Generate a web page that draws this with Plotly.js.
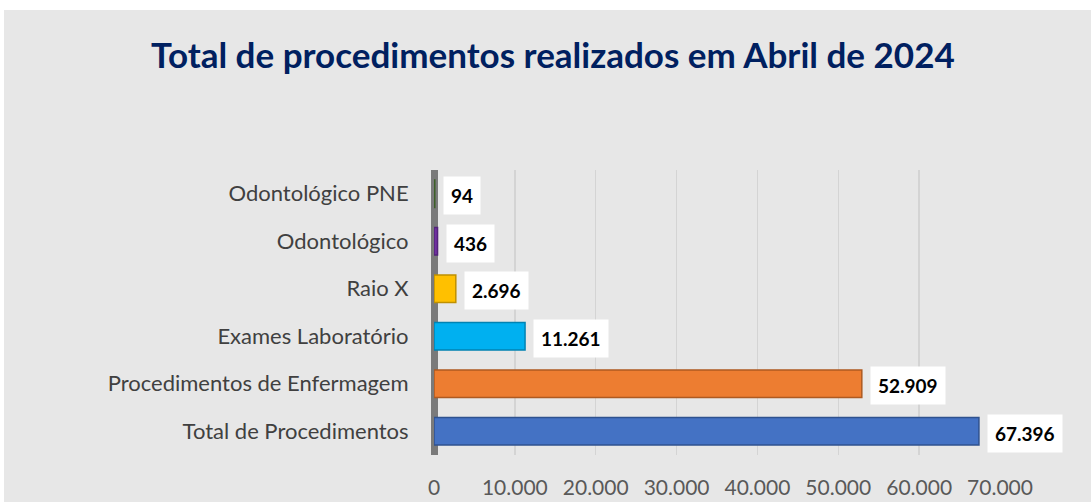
<!DOCTYPE html>
<html>
<head>
<meta charset="utf-8">
<script src="https://cdn.plot.ly/plotly-3.0.1.min.js"></script>
<style>
html,body{margin:0;padding:0;background:#ffffff;width:1091px;height:502px;overflow:hidden;}
#chart{position:absolute;left:4px;top:10px;width:1087px;height:492px;}
</style>
</head>
<body>
<div id="chart"></div>
<script>
const categories = ["Total de Procedimentos", "Procedimentos de Enfermagem", "Exames Laboratório", "Raio X", "Odontológico", "Odontológico PNE"];
const values = [67396, 52909, 11261, 2696, 436, 94];
const tickValues = [0, 10000, 20000, 30000, 40000, 50000, 60000, 70000];

const barColors = ["#4472C4", "#ED7D31", "#00B0F0", "#FFC000", "#7030A0", "#548235"];
const lineColors = ["#2F528F", "#AE5A21", "#0083B3", "#BF9000", "#52237A", "#3D5F27"];

function fmt(v){ return String(v).replace(/\B(?=(\d{3})+(?!\d))/g, "."); }

const FONT = "Lato, 'Liberation Sans', sans-serif";

const trace = {
  type: "bar",
  orientation: "h",
  y: categories,
  x: values,
  width: 0.58,
  marker: {color: barColors, line: {color: lineColors, width: 1.5}},
  hoverinfo: "none"
};

const annotations = values.map((v, i) => ({
  x: v, y: categories[i], xref: "x", yref: "y",
  text: "<b>" + fmt(v) + "</b>",
  showarrow: false, xanchor: "left", yanchor: "middle",
  xshift: 8, yshift: -2,
  bgcolor: "#ffffff", borderpad: 7,
  font: {family: FONT, size: 19, color: "#000000"}
}));

const layout = {
  width: 1087, height: 492,
  paper_bgcolor: "#e7e7e7",
  plot_bgcolor: "#e7e7e7",
  separators: ",.",
  margin: {l: 430, r: 91, t: 160, b: 47},
  title: {
    text: "<b>Total de procedimentos realizados em Abril de 2024</b>",
    font: {family: FONT, size: 35, color: "#002060"},
    x: 0.505, xanchor: "center", xref: "container",
    y: 0.907, yanchor: "middle", yref: "container"
  },
  xaxis: {
    range: [0, 70000],
    tickvals: tickValues,
    ticktext: tickValues.map(fmt),
    showgrid: true, gridcolor: "#d4d4d4", gridwidth: 1.5,
    zeroline: true, zerolinecolor: "#7a7a7a", zerolinewidth: 7,
    ticks: "outside", ticklen: 14, tickcolor: "rgba(0,0,0,0)",
    tickfont: {family: FONT, size: 21, color: "#595959"},
    showline: false, fixedrange: true
  },
  yaxis: {
    type: "category",
    ticks: "outside", ticklen: 20, tickcolor: "rgba(0,0,0,0)",
    tickfont: {family: FONT, size: 22, color: "#404040"},
    showgrid: false, zeroline: false, showline: false, fixedrange: true
  },
  annotations: annotations,
  showlegend: false
};

Plotly.newPlot("chart", [trace], layout, {displayModeBar: false, staticPlot: true});
</script>
</body>
</html>
